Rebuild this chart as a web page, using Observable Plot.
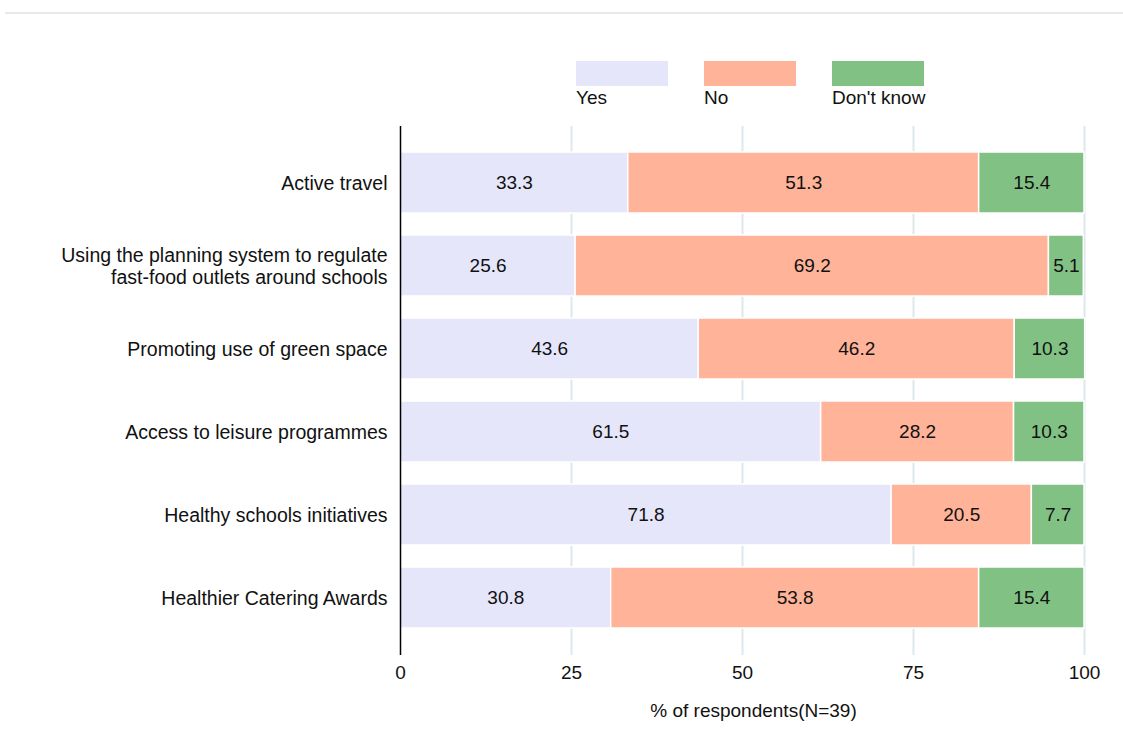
<!DOCTYPE html>
<html>
<head>
<meta charset="utf-8">
<script src="https://cdn.jsdelivr.net/npm/d3@7"></script>
<script src="https://cdn.jsdelivr.net/npm/@observablehq/plot@0.6"></script>
<style>
  html, body { margin: 0; padding: 0; background: #fff; }
  #wrap { position: relative; width: 1123px; height: 747px; font-family: "Liberation Sans", Arial, sans-serif; }
  #topline { position: absolute; left: 5px; right: 0; top: 12px; height: 0; border-top: 2px solid #e6eaea; }
  .leg { position: absolute; top: 61px; }
  .leg .sw { width: 92px; height: 25px; }
  .leg .lb { font-size: 19px; line-height: 22px; color: #111; margin-top: 1px; white-space: nowrap; }
</style>
</head>
<body>
<div id="wrap">
  <div id="topline"></div>
  <div id="chart"></div>
  <div id="legend"></div>
</div>
<script>
const categories = [
  "Active travel",
  "Using the planning system to regulate\nfast-food outlets around schools",
  "Promoting use of green space",
  "Access to leisure programmes",
  "Healthy schools initiatives",
  "Healthier Catering Awards"
];
const responses = ["Yes", "No", "Don't know"];
const yesValues = [33.3, 25.6, 43.6, 61.5, 71.8, 30.8];
const noValues = [51.3, 69.2, 46.2, 28.2, 20.5, 53.8];
const dkValues = [15.4, 5.1, 10.3, 10.3, 7.7, 15.4];
const colors = ["#e6e6fa", "#ffb399", "#81c184"];
const xTicks = [0, 25, 50, 75, 100];
const xTitle = "% of respondents(N=39)";

const series = [yesValues, noValues, dkValues];
const data = [];
categories.forEach((c, i) => {
  responses.forEach((r, j) => data.push({cat: c, resp: r, value: series[j][i]}));
});

const chart = Plot.plot({
  width: 1123,
  height: 747,
  marginLeft: 400,
  marginRight: 39,
  marginTop: 126,
  marginBottom: 92,
  style: {fontFamily: "Liberation Sans, Arial, sans-serif", fontSize: "19px", color: "#111", background: "white"},
  x: {domain: [0, 100], ticks: xTicks},
  y: {domain: categories, paddingInner: 0.265, paddingOuter: 0.315},
  color: {domain: responses, range: colors},
  marks: [
    Plot.gridX(xTicks.slice(1), {stroke: "#dde7ee", strokeOpacity: 1, strokeWidth: 2}),
    Plot.barX(data, Plot.stackX({x: "value", y: "cat", fill: "resp", order: responses, stroke: "white", strokeWidth: 1.5})),
    Plot.textX(data, Plot.stackX({x: "value", y: "cat", z: "resp", order: responses, text: d => d.value.toFixed(1), fill: "#111", fontSize: 19})),
    Plot.axisX(xTicks, {tickSize: 0, tickPadding: 10, fontSize: 19, label: null}),
    Plot.axisY({tickSize: 0, tickPadding: 13, fontSize: 19.5, lineHeight: 1.12, label: null}),
    Plot.ruleX([0], {stroke: "#000", strokeWidth: 1.5}),
    Plot.ruleY([0], {stroke: "#000", strokeWidth: 1.5, x1: 0, x2: 100}),
    Plot.text([xTitle], {frameAnchor: "bottom", dy: 61, dx: 11, fontSize: 19, fill: "#111"})
  ]
});
document.getElementById("chart").appendChild(chart);

// Legend (HTML, above plot area)
const legX = [576, 704, 832];
const leg = document.getElementById("legend");
responses.forEach((r, i) => {
  const d = document.createElement("div");
  d.className = "leg";
  d.style.left = legX[i] + "px";
  d.innerHTML = `<div class="sw" style="background:${colors[i]}"></div><div class="lb">${r}</div>`;
  leg.appendChild(d);
});
</script>
</body>
</html>
